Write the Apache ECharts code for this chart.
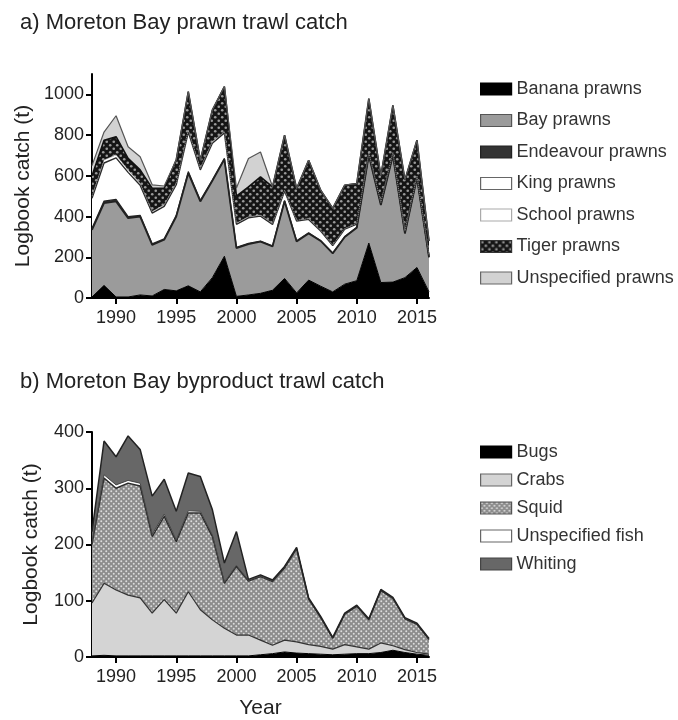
<!DOCTYPE html>
<html><head><meta charset="utf-8">
<script src="https://cdn.jsdelivr.net/npm/echarts@6/dist/echarts.min.js"></script>
<style>html,body{margin:0;padding:0;background:#fff}#c{width:678px;height:720px}</style>
</head><body><div id="c"></div>
<script>
const years = [1988,1989,1990,1991,1992,1993,1994,1995,1996,1997,1998,1999,2000,2001,2002,2003,2004,2005,2006,2007,2008,2009,2010,2011,2012,2013,2014,2015,2016];
const xTicks = [1990,1995,2000,2005,2010,2015];
const yTicksA = [0,200,400,600,800,1000];
const yTicksB = [0,100,200,300,400];

// a) prawn trawl catch (t)
const banana     = [5,62,5,5,15,10,42,35,60,30,100,205,8,15,23,38,96,25,88,58,30,68,85,270,76,78,100,150,30];
const bay        = [330,404,469,387,385,251,244,365,553,444,475,476,237,250,254,215,379,253,229,222,189,232,260,430,380,622,217,440,170];
const endeavour  = [8,10,10,8,6,5,5,6,8,6,5,5,4,4,3,3,4,3,3,2,2,2,2,3,3,3,2,2,1];
const king       = [147,187,204,217,148,151,159,150,194,149,180,125,113,125,122,105,46,97,66,47,36,36,16,8,8,9,8,5,7];
const school     = [10,15,15,12,10,8,8,8,10,8,8,6,6,5,5,5,5,4,4,4,3,3,3,4,3,3,3,3,2];
const tiger      = [100,97,89,57,65,114,81,114,188,39,155,221,132,147,188,180,269,155,286,196,180,213,196,264,130,231,250,175,70];
const unspecP    = [50,40,103,57,65,17,11,0,0,0,0,0,40,139,122,0,0,0,0,0,0,0,0,0,0,0,0,0,0];

// b) byproduct trawl catch (t)
const bugs       = [2,3,2,2,2,2,2,2,2,2,2,2,2,2,4,6,9,7,6,5,4,5,6,6,8,12,8,5,3];
const crabs      = [94,128,117,108,103,76,100,76,114,82,64,49,37,37,26,15,21,20,16,14,10,17,12,8,17,8,5,3,2];
const squid      = [104,187,181,199,199,136,148,127,140,172,148,80,122,96,113,113,128,165,81,51,19,54,72,52,93,84,55,50,26];
const unspecF    = [3,6,6,5,5,4,4,3,4,3,3,2,2,1,1,1,1,1,1,1,1,1,1,1,1,1,1,1,1];
const whiting    = [20,60,50,79,60,68,62,51,67,62,45,34,60,2,2,2,2,2,1,1,1,1,1,1,1,1,1,1,1];

function pattern(bg, dot, size, r) {
  const c = document.createElement('canvas');
  c.width = size; c.height = size;
  const g = c.getContext('2d');
  g.fillStyle = bg; g.fillRect(0,0,size,size);
  g.fillStyle = dot;
  g.beginPath(); g.arc(size/4, size/4, r, 0, Math.PI*2); g.fill();
  g.beginPath(); g.arc(3*size/4, 3*size/4, r, 0, Math.PI*2); g.fill();
  return {image: c, repeat: 'repeat'};
}
const tigerPat = pattern('#151515', '#9a9a9a', 7, 1.3);
const squidPat = pattern('#8c8c8c', '#dcdcdc', 5, 1.0);

const FONT = 'Liberation Sans, Arial, sans-serif';
const yearCats = years.map(String);
const isTick = (i, v) => xTicks.indexOf(Number(v)) >= 0;

function area(name, arr, fill, line, lw, idx, stack, ltype) {
  return {
    name, type:'line', stack, xAxisIndex: idx, yAxisIndex: idx,
    data: arr, showSymbol:false, symbol:'none', smooth:false,
    lineStyle:{color: line, width: lw, type: ltype || 'solid'},
    areaStyle:{color: fill, opacity:1},
    itemStyle:{color: fill},
    emphasis:{disabled:true}
  };
}

const seriesA = [
  area('Banana prawns', banana, '#000000', '#000000', 1, 0, 'a'),
  area('Bay prawns', bay, '#9b9b9b', '#222222', 1.8, 0, 'a'),
  area('Endeavour prawns', endeavour, '#333333', '#222222', 1.2, 0, 'a'),
  area('King prawns', king, '#ffffff', '#2a2a2a', 1.4, 0, 'a'),
  area('School prawns', school, '#ffffff', '#888888', 1, 0, 'a', 'dotted'),
  area('Tiger prawns', tiger, tigerPat, '#111111', 1.6, 0, 'a'),
  area('Unspecified prawns', unspecP, '#d2d2d2', '#555555', 1.2, 0, 'a')
];
const seriesB = [
  area('Bugs', bugs, '#000000', '#000000', 1, 1, 'b'),
  area('Crabs', crabs, '#d4d4d4', '#333333', 1.2, 1, 'b'),
  area('Squid', squid, squidPat, '#2a2a2a', 1.4, 1, 'b'),
  area('Unspecified fish', unspecF, '#ffffff', '#444444', 1, 1, 'b'),
  area('Whiting', whiting, '#676767', '#222222', 1.5, 1, 'b')
];

function legendItems(list, borders) {
  return list.map((s, i) => ({
    name: s.name,
    itemStyle: {color: s.areaStyle.color, borderColor: borders[i], borderWidth: 1.2}
  }));
}

function xAx(idx, name) {
  return {
    type:'category', gridIndex: idx, data: yearCats, boundaryGap:false,
    name: name || '', nameLocation:'middle', nameGap: 41,
    nameTextStyle:{fontSize:21, color:'#222', fontFamily:FONT},
    axisLine:{show:true, onZero:false, lineStyle:{color:'#000', width:2}},
    axisTick:{show:true, length:6, lineStyle:{color:'#000', width:2}, interval: isTick, alignWithLabel:true},
    axisLabel:{fontSize:18, color:'#222', margin:11, fontFamily:FONT, interval: isTick},
    splitLine:{show:false}
  };
}
function yAx(idx, max, ticks, gap) {
  return {
    type:'value', gridIndex: idx, min:0, max: max,
    name:'Logbook catch (t)', nameLocation:'middle', nameGap: gap,
    nameTextStyle:{fontSize:21, color:'#222', fontFamily:FONT},
    axisLine:{show:true, lineStyle:{color:'#000', width:2}},
    axisTick:{show:true, length:6, lineStyle:{color:'#000', width:2}, customValues: ticks},
    axisLabel:{fontSize:18, color:'#222', margin:8, fontFamily:FONT, customValues: ticks, formatter: v => String(v)},
    splitLine:{show:false}
  };
}

const chart = echarts.init(document.getElementById('c'), null, {renderer:'canvas'});
chart.setOption({
  animation:false,
  backgroundColor:'#ffffff',
  title:[
    {text:'a) Moreton Bay prawn trawl catch', left:15, top:7, textStyle:{fontSize:22, fontWeight:'normal', color:'#222', fontFamily:FONT}},
    {text:'b) Moreton Bay byproduct trawl catch', left:15, top:366, textStyle:{fontSize:22, fontWeight:'normal', color:'#222', fontFamily:FONT}}
  ],
  grid:[
    {left:92, top:74, width:337, height:224},
    {left:92, top:432, width:337, height:225}
  ],
  xAxis:[xAx(0), xAx(1, 'Year')],
  yAxis:[yAx(0, 1100, yTicksA, 58), yAx(1, 400, yTicksB, 50)],
  legend:[
    {orient:'vertical', left:480, top:80, padding:0, itemWidth:31, itemHeight:12, itemGap:13.5, selectedMode:false,
     icon:'rect', textStyle:{fontSize:18, color:'#333', fontFamily:FONT},
     data: legendItems(seriesA, ['#000','#555','#222','#666','#aaa','#333','#666'])},
    {orient:'vertical', left:480, top:443, padding:0, itemWidth:31, itemHeight:12, itemGap:10, selectedMode:false,
     icon:'rect', textStyle:{fontSize:18, color:'#333', fontFamily:FONT},
     data: legendItems(seriesB, ['#000','#666','#555','#666','#444'])}
  ],
  series: seriesA.concat(seriesB)
});
</script></body></html>
